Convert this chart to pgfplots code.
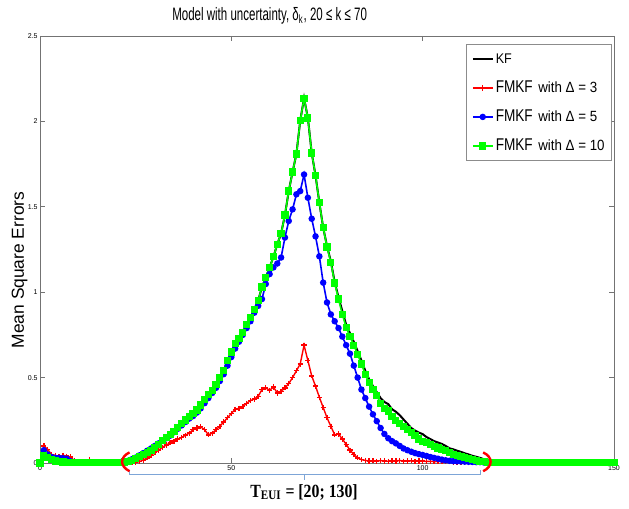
\documentclass[border=0pt]{standalone}
\usepackage{fontspec}
\setmainfont{Liberation Sans}
\newfontfamily\titlefont{Liberation Sans}[FakeStretch=0.64]
\newfontfamily\legfont{Liberation Sans}[FakeStretch=0.8]
\newfontfamily\legsmall{Liberation Sans}[FakeStretch=0.9]
\newfontfamily\labfont{Liberation Serif}[FakeStretch=0.85]
\usepackage{pgfplots}
\usepackage{pgfplotstable}
\pgfplotsset{compat=1.18}

\definecolor{mgreen}{RGB}{0,255,0}
\definecolor{mblue}{RGB}{0,0,255}
\definecolor{mred}{RGB}{255,0,0}
\definecolor{bracecol}{RGB}{125,165,215}

% k  KF  dlt3  dlt5  dlt10
\pgfplotstableread{
k kf d3 d5 d10
0 0 0 0 0
1 0.045 0.10 0.075 0.045
2 0.03 0.08 0.05 0.03
3 0.02 0.05 0.035 0.02
4 0.012 0.045 0.03 0.012
5 0.01 0.035 0.03 0.01
6 0.006 0.045 0.028 0.006
7 0.005 0.04 0.025 0.005
8 0.005 0.035 0.01 0.005
9 0.005 0.012 0.005 0.005
10 0.004 0.006 0.004 0.004
11 0.004 0.006 0.004 0.004
12 0.004 0.006 0.004 0.004
13 0.004 0.02 0.004 0.004
14 0.004 0.005 0.004 0.004
15 0.004 0.005 0.004 0.004
16 0.004 0.005 0.004 0.004
17 0.004 0.005 0.004 0.004
18 0.004 0.005 0.004 0.004
19 0.004 0.005 0.004 0.004
20 0.004 0.005 0.004 0.004
21 0.005 0.004 0.005 0.005
22 0.006 0.003 0.008 0.006
23 0.01 0.003 0.013 0.01
24 0.016 0.002 0.022 0.016
25 0.025 0.003 0.032 0.025
26 0.037 0.008 0.045 0.037
27 0.05 0.018 0.058 0.05
28 0.062 0.03 0.072 0.062
29 0.075 0.045 0.085 0.075
30 0.093 0.06 0.1 0.093
31 0.11 0.075 0.115 0.11
32 0.13 0.092 0.13 0.13
33 0.147 0.105 0.145 0.147
34 0.167 0.118 0.16 0.167
35 0.186 0.128 0.18 0.186
36 0.21 0.14 0.2 0.21
37 0.232 0.15 0.22 0.232
38 0.252 0.163 0.24 0.252
39 0.27 0.175 0.26 0.27
40 0.29 0.195 0.275 0.29
41 0.31 0.205 0.295 0.31
42 0.34 0.212 0.32 0.34
43 0.37 0.195 0.35 0.37
44 0.40 0.165 0.38 0.40
45 0.425 0.175 0.41 0.425
46 0.46 0.195 0.44 0.46
47 0.50 0.215 0.48 0.50
48 0.54 0.24 0.52 0.54
49 0.60 0.265 0.57 0.60
50 0.65 0.29 0.62 0.65
51 0.70 0.315 0.67 0.70
52 0.73 0.32 0.71 0.73
53 0.765 0.33 0.75 0.765
54 0.81 0.35 0.79 0.81
55 0.85 0.365 0.83 0.85
56 0.90 0.375 0.88 0.90
57 0.95 0.39 0.92 0.95
58 1.03 0.43 0.96 1.03
59 1.086 0.44 1.048 1.086
60 1.145 0.425 1.106 1.145
61 1.207 0.445 1.145 1.207
62 1.281 0.41 1.168 1.281
63 1.343 0.42 1.203 1.343
64 1.452 0.44 1.32 1.452
65 1.592 0.465 1.417 1.592
66 1.704 0.5 1.485 1.704
67 1.809 0.54 1.573 1.809
68 2.004 0.58 1.592 2.004
69 2.136 0.69 1.689 2.136
70 2.02 0.6 1.553 2.02
71 1.815 0.51 1.43 1.815
72 1.683 0.45 1.327 1.683
73 1.524 0.385 1.21 1.524
74 1.378 0.325 1.056 1.378
75 1.27 0.265 0.94 1.265
76 1.18 0.215 0.87 1.175
77 1.06 0.165 0.83 1.054
78 0.97 0.17 0.79 0.96
79 0.89 0.14 0.74 0.87
80 0.81 0.11 0.69 0.795
81 0.76 0.075 0.64 0.74
82 0.71 0.05 0.57 0.69
83 0.655 0.03 0.5 0.635
84 0.60 0.02 0.43 0.58
85 0.54 0.015 0.38 0.52
86 0.49 0.012 0.33 0.47
87 0.45 0.013 0.285 0.43
88 0.415 0.011 0.245 0.395
89 0.38 0.014 0.205 0.35
90 0.357 0.012 0.17 0.32
91 0.345 0.01 0.145 0.305
92 0.315 0.013 0.128 0.27
93 0.30 0.012 0.115 0.25
94 0.28 0.015 0.1 0.23
95 0.255 0.011 0.085 0.212
96 0.23 0.012 0.075 0.195
97 0.205 0.013 0.066 0.178
98 0.19 0.01 0.058 0.16
99 0.178 0.012 0.052 0.14
100 0.169 0.011 0.047 0.128
101 0.152 0.009 0.041 0.12
102 0.14 0.01 0.035 0.108
103 0.128 0.008 0.03 0.097
104 0.12 0.009 0.025 0.088
105 0.112 0.008 0.02 0.08
106 0.10 0.007 0.016 0.072
107 0.086 0.007 0.013 0.063
108 0.08 0.006 0.011 0.052
109 0.072 0.006 0.01 0.045
110 0.065 0.005 0.009 0.04
111 0.057 0.005 0.008 0.033
112 0.05 0.005 0.007 0.027
113 0.042 0.004 0.006 0.021
114 0.036 0.004 0.005 0.016
115 0.03 0.004 0.005 0.01
116 0.022 0.003 0.003 0.007
117 0.012 0.002 0.002 0.004
118 0.004 0.002 0.002 0.003
119 0.004 0.002 0.002 0.003
120 0.004 0.002 0.002 0.003
121 0.004 0.002 0.002 0.003
122 0.004 0.002 0.002 0.003
123 0.004 0.002 0.002 0.003
124 0.004 0.002 0.002 0.003
125 0.004 0.002 0.002 0.003
126 0.004 0.002 0.002 0.003
127 0.004 0.002 0.002 0.003
128 0.004 0.002 0.002 0.003
129 0.004 0.002 0.002 0.003
130 0.004 0.002 0.002 0.003
131 0.004 0.002 0.002 0.003
132 0.004 0.002 0.002 0.003
133 0.004 0.002 0.002 0.003
134 0.004 0.002 0.002 0.003
135 0.004 0.002 0.002 0.003
136 0.004 0.002 0.002 0.003
137 0.004 0.002 0.002 0.003
138 0.004 0.002 0.002 0.003
139 0.004 0.002 0.002 0.003
140 0.004 0.002 0.002 0.003
141 0.004 0.002 0.002 0.003
142 0.004 0.002 0.002 0.003
143 0.004 0.002 0.002 0.003
144 0.004 0.002 0.002 0.003
145 0.004 0.002 0.002 0.003
146 0.004 0.002 0.002 0.003
147 0.004 0.002 0.002 0.003
148 0.004 0.002 0.002 0.003
149 0.004 0.002 0.002 0.003
150 0.004 0.002 0.002 0.003
}\msedata

\begin{document}
\begin{tikzpicture}
\begin{axis}[
  scale only axis,
  width=287pt, height=213.5pt,
  xmin=0, xmax=150, ymin=0, ymax=2.5,
  xtick={0,50,100,150},
  ytick={0,0.5,1,1.5,2,2.5},
  tick align=inside,
  major tick length=2.5pt,
  axis line style={black!55},
  every tick/.style={black!55},
  /pgf/number format/assume math mode=true,
  ticklabel style={font=\fontsize{3.5}{4}\selectfont, inner sep=1pt},
  clip=false,
  set layers,
  title={\titlefont Model with uncertainty, δ\textsubscript{k}, 20 ≤ k ≤ 70},
  title style={at={(rel axis cs:0.40,1)}, anchor=base, yshift=1.5pt,
    font=\fontsize{9}{10}\selectfont, inner sep=0pt},
  ylabel={Mean Square Errors},
  ylabel style={at={(rel axis cs:-0.021,0.452)}, anchor=south,
    font=\fontsize{8.7}{9}\selectfont, inner sep=0pt},
  xlabel={\labfont\bfseries T\textsubscript{EUI} = [20; 130]},
  xlabel style={at={(rel axis cs:0.46,0)}, anchor=base, yshift=-17pt,
    font=\fontsize{9.3}{10}\selectfont, inner sep=0pt},
  legend style={at={(rel axis cs:0.9965,0.981)}, anchor=north east,
    draw=black!45, fill=white, inner xsep=2.5pt, inner ysep=1.7pt,
    row sep=3.5pt,
    nodes={inner sep=1pt, text height=7pt, text depth=2pt}},
  legend cell align=left,
  legend image code/.code={
    \draw[mark repeat=2,mark phase=2,#1]
      plot coordinates {(0pt,0pt) (5pt,0pt) (10pt,0pt)};},
]
\addplot[black, line width=1pt] table[x=k, y=kf] {\msedata};
\addlegendentry{\legsmall\fontsize{7}{8}\selectfont KF}
\addplot[mred, line width=0.7pt, mark=+, mark size=1.3pt] table[x=k, y=d3] {\msedata};
\addlegendentry{{\legfont\fontsize{8.5}{9}\selectfont FMKF} {\legsmall\fontsize{7.4}{8}\selectfont with Δ = 3}}
\addplot[mblue, line width=0.8pt, mark=*, mark size=1.2pt] table[x=k, y=d5] {\msedata};
\addlegendentry{{\legfont\fontsize{8.5}{9}\selectfont FMKF} {\legsmall\fontsize{7.4}{8}\selectfont with Δ = 5}}
\addplot[mgreen, line width=0.8pt, mark=square*, mark size=1.4pt] table[x=k, y=d10] {\msedata};
\addlegendentry{{\legfont\fontsize{8.5}{9}\selectfont FMKF} {\legsmall\fontsize{7.4}{8}\selectfont with Δ = 10}}

% interval marks: red parentheses at both ends, above the curves
\pgfonlayer{axis foreground}
\draw[mred, line width=1.2pt]
  (axis cs:23.4,0.062) .. controls (axis cs:20.8,0.035) and (axis cs:20.8,-0.02) .. (axis cs:23.4,-0.048);
\draw[mred, line width=1.2pt]
  (axis cs:115.8,0.062) .. controls (axis cs:118.4,0.035) and (axis cs:118.4,-0.02) .. (axis cs:115.8,-0.048);
\endpgfonlayer
% brace under the interval
\draw[bracecol, line width=0.5pt]
  (axis cs:23.5,-0.041) -- (axis cs:23.5,-0.07) -- (axis cs:115.2,-0.07) -- (axis cs:115.2,-0.041);
\draw[bracecol, line width=0.5pt] (axis cs:69,-0.07) -- (axis cs:69,-0.099);

% keep the page margins of the reference
\path (rel axis cs:-0.0697,-0.1077) rectangle (rel axis cs:1.0261,1.0843);
\end{axis}
\end{tikzpicture}
\end{document}
